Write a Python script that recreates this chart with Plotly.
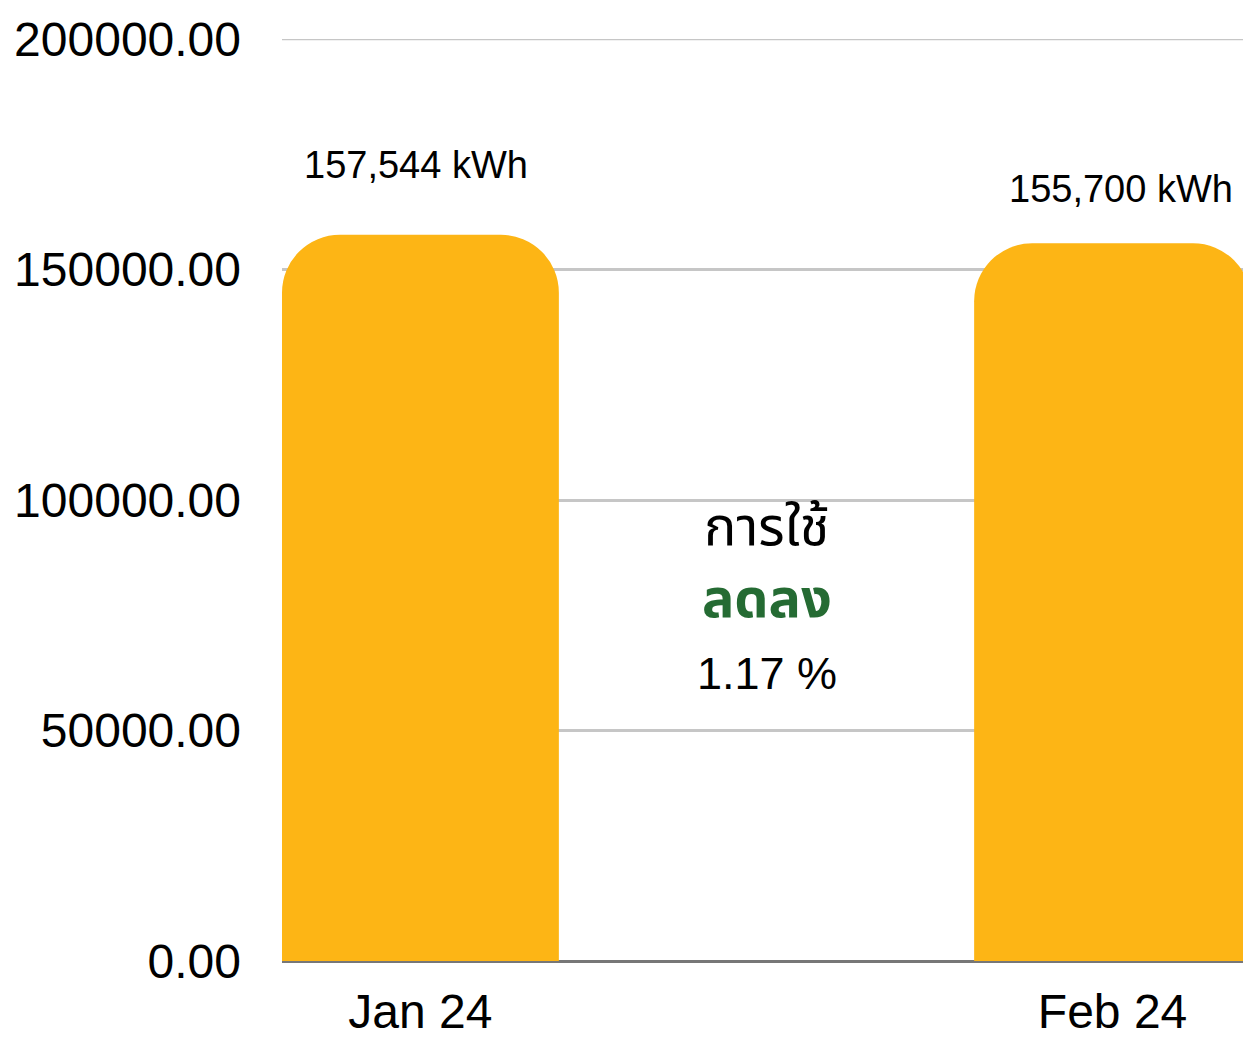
import plotly.graph_objects as go

months = ["Jan 24", "Feb 24"]
usage_kwh = [157544, 155700]
value_labels = ["157,544 kWh", "155,700 kWh"]
y_ticks = [0, 50000, 100000, 150000, 200000]
y_tick_labels = ["0.00", "50000.00", "100000.00", "150000.00", "200000.00"]
change_lines = ["การใช้", "ลดลง", "1.17 %"]

FONT = "Liberation Sans, Arimo, Helvetica, Noto Sans Thai, Noto Sans, sans-serif"

fig = go.Figure()
fig.add_trace(go.Bar(
    x=months, y=usage_kwh, width=0.4,
    marker=dict(color="#FDB515", line=dict(width=0)),
    hoverinfo="skip",
))

# value labels above bars
shifts = [(-4, 70), (8, 54)]
for m, v, lab, (xs, ys) in zip(months, usage_kwh, value_labels, shifts):
    fig.add_annotation(x=m, y=v, text=lab, showarrow=False, xshift=xs, yshift=ys,
                       font=dict(size=38, color="#000000", family=FONT))

# middle text block
fig.add_annotation(x=0.5, y=100000, xref="x", yref="y", text=change_lines[0], showarrow=False,
                   yshift=-26, font=dict(size=54, color="#000000", family=FONT))
fig.add_annotation(x=0.5, y=100000, xref="x", yref="y", text="<b>" + change_lines[1] + "</b>",
                   showarrow=False, yshift=-98, font=dict(size=54, color="#256B33", family=FONT))
fig.add_annotation(x=0.5, y=100000, xref="x", yref="y", text=change_lines[2], showarrow=False,
                   yshift=-173, font=dict(size=45, color="#000000", family=FONT))

# top gridline (at the edge of the range)
fig.add_shape(type="line", xref="paper", yref="y", x0=0, x1=1, y0=y_ticks[-1], y1=y_ticks[-1],
              line=dict(color="#C6C6C6", width=2.5), layer="below")

fig.update_layout(
    width=1243, height=1030,
    margin=dict(l=274, r=0, t=31, b=73),
    paper_bgcolor="white", plot_bgcolor="white",
    showlegend=False,
    barcornerradius=58,
    font=dict(family=FONT, color="#000000"),
    xaxis=dict(
        range=[-0.2, 1.2], showgrid=False, showline=False, zeroline=False,
        ticks="", tickfont=dict(size=48, color="#000000"), ticklabelstandoff=18,
    ),
    yaxis=dict(
        range=[0, 200000], tickvals=y_ticks, ticktext=y_tick_labels,
        showgrid=True, gridcolor="#C6C6C6", gridwidth=2.5,
        zeroline=True, zerolinecolor="#777777", zerolinewidth=3,
        showline=False, ticks="", tickfont=dict(size=48, color="#000000"),
        ticklabelstandoff=40,
    ),
)

fig.write_html("out.html")
